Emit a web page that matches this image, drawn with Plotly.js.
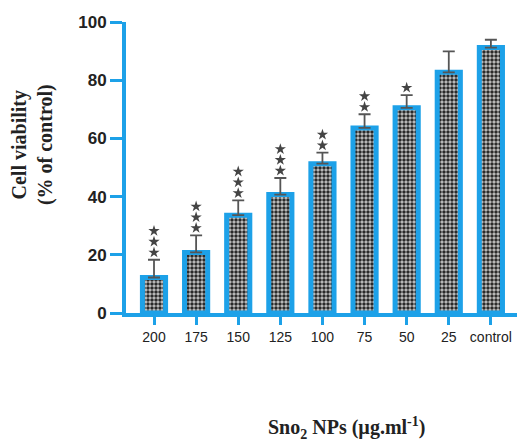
<!DOCTYPE html>
<html>
<head>
<meta charset="utf-8">
<script src="https://cdn.plot.ly/plotly-3.0.1.min.js"></script>
<style>html,body{margin:0;padding:0;background:#fff;}#chart{width:518px;height:443px;}</style>
</head>
<body>
<div id="chart"></div>
<script>
const categories = ["200", "175", "150", "125", "100", "75", "50", "25", "control"];
const viability = [12.2, 20.8, 33.6, 40.7, 51.3, 63.6, 70.5, 82.7, 91.2];
const sdUpper = [6.1, 5.9, 5.1, 5.7, 3.8, 4.7, 4.4, 7.2, 2.7];
const starCounts = [3, 3, 3, 3, 2, 2, 1, 0, 0];
const yTicks = [0, 20, 40, 60, 80, 100];

const blue = "#1DA1E8";

const bars = {
  type: "bar",
  x: categories,
  y: viability,
  width: 0.55,
  marker: {
    color: "#c8c8c8",
    line: {color: blue, width: 5},
    pattern: {shape: ".", fgcolor: "#2a2a2a", bgcolor: "#c8c8c8", size: 4, solidity: 0.6}
  },
  error_y: {
    type: "data",
    symmetric: false,
    array: sdUpper,
    arrayminus: categories.map(() => 0),
    color: "#555555",
    thickness: 1.8,
    width: 6
  },
  hoverinfo: "skip",
  showlegend: false
};

const starX = [], starY = [];
categories.forEach((c, i) => {
  for (let k = 0; k < starCounts[i]; k++) {
    starX.push(c);
    starY.push(viability[i] + sdUpper[i] + 2.5 + k * 3.7);
  }
});
const stars = {
  type: "scatter",
  mode: "markers",
  x: starX,
  y: starY,
  marker: {symbol: "star", size: 8.5, color: "#444444"},
  hoverinfo: "skip",
  showlegend: false
};

const layout = {
  width: 518,
  height: 443,
  margin: {l: 126, r: 1, t: 22, b: 130},
  paper_bgcolor: "#ffffff",
  plot_bgcolor: "#ffffff",
  showlegend: false,
  xaxis: {
    type: "category",
    range: [-0.665, 8.62],
    tickvals: categories,
    ticktext: categories,
    showline: true,
    linecolor: blue,
    linewidth: 4,
    ticks: "outside",
    ticklen: 8,
    tickwidth: 3,
    tickcolor: blue,
    showgrid: false,
    zeroline: false,
    tickfont: {family: "Liberation Sans, Arial, sans-serif", size: 14, color: "#222"}
  },
  yaxis: {
    range: [0, 100],
    tickvals: yTicks,
    ticktext: yTicks.map(String),
    showline: true,
    linecolor: blue,
    linewidth: 4,
    ticks: "outside",
    ticklen: 12,
    tickwidth: 3,
    tickcolor: blue,
    showgrid: false,
    zeroline: false,
    tickfont: {family: "Liberation Sans, Arial, sans-serif", size: 17, color: "#222", weight: "bold"}
  },
  annotations: [
    {
      xref: "paper", yref: "paper",
      x: -0.2404, y: 0.577,
      xanchor: "center", yanchor: "middle",
      textangle: -90,
      showarrow: false,
      text: "<b>Cell viability<br>(% of control)</b>",
      font: {family: "Liberation Serif, Times New Roman, serif", size: 20, color: "#222"}
    },
    {
      xref: "paper", yref: "paper",
      x: 0.563, y: -0.395,
      xanchor: "center", yanchor: "middle",
      showarrow: false,
      text: "<b>Sno<sub>2</sub> NPs (µg.ml<sup>-1</sup>)</b>",
      font: {family: "Liberation Serif, Times New Roman, serif", size: 20, color: "#222"}
    }
  ]
};

Plotly.newPlot("chart", [bars, stars], layout, {staticPlot: true, displayModeBar: false});
</script>
</body>
</html>
